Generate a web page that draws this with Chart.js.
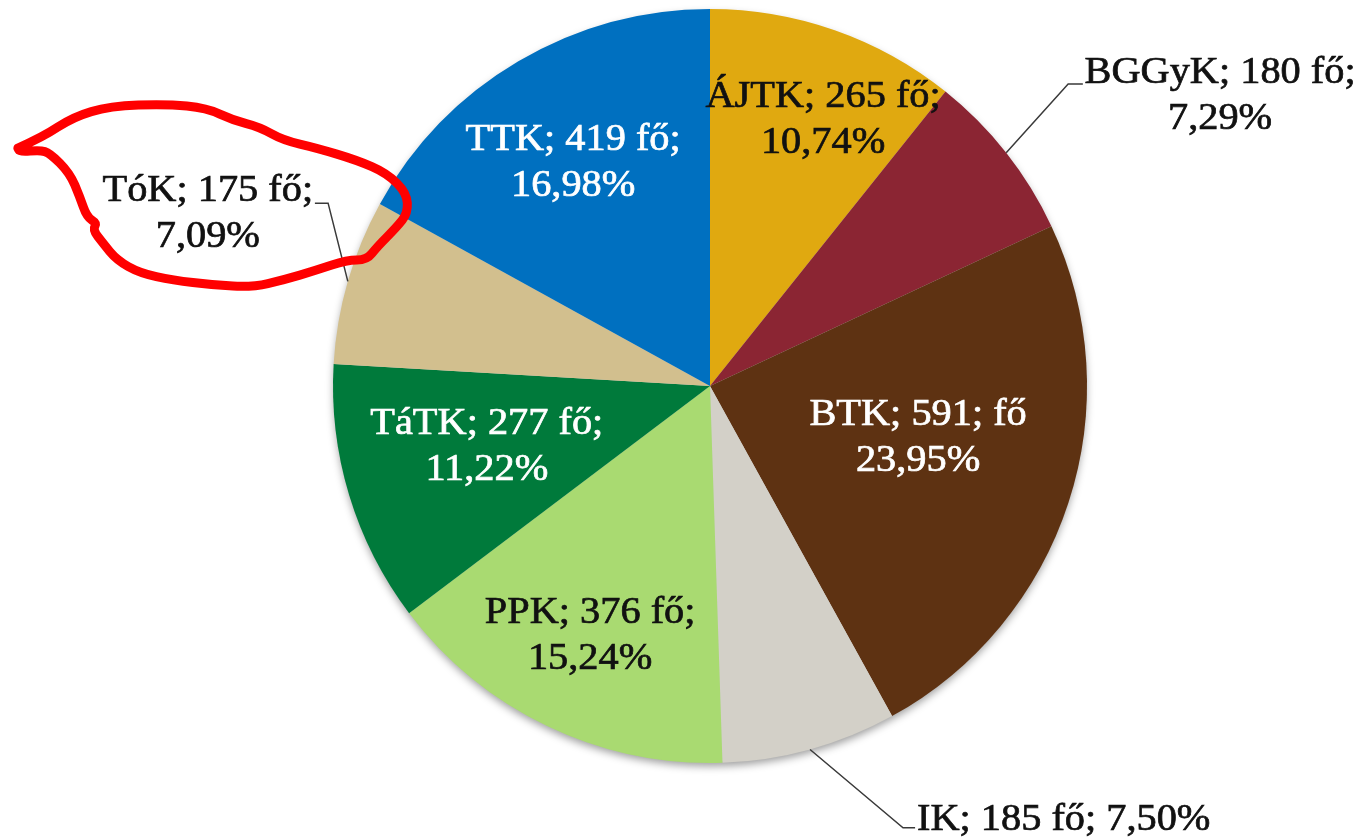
<!DOCTYPE html>
<html>
<head>
<meta charset="utf-8">
<script src="https://cdn.jsdelivr.net/npm/chart.js@4.4.1/dist/chart.umd.min.js"></script>
<style>
  html, body { margin: 0; padding: 0; background: #ffffff; }
  #wrap { width: 1358px; height: 838px; position: relative; }
</style>
</head>
<body>
<div id="wrap"><canvas id="c" width="1358" height="838"></canvas></div>
<script>
// ---- data ----
const categories = ['ÁJTK', 'BGGyK', 'BTK', 'IK', 'PPK', 'TáTK', 'TóK', 'TTK'];
const counts = [265, 180, 591, 185, 376, 277, 175, 419];
const percentLabels = ['10,74%', '7,29%', '23,95%', '7,50%', '15,24%', '11,22%', '7,09%', '16,98%'];
const labelTexts = [
  ['ÁJTK; 265 fő;', '10,74%'],
  ['BGGyK; 180 fő;', '7,29%'],
  ['BTK; 591; fő', '23,95%'],
  ['IK; 185 fő; 7,50%'],
  ['PPK; 376 fő;', '15,24%'],
  ['TáTK; 277 fő;', '11,22%'],
  ['TóK; 175 fő;', '7,09%'],
  ['TTK; 419 fő;', '16,98%']
];

// ---- styles ----
const colors = ['#E0A910', '#8B2533', '#5E3212', '#D3D0C8', '#A9DA71', '#007A3B', '#D2BF8E', '#0070C0'];
const textColors = ['#111', '#111', '#fff', '#111', '#111', '#fff', '#111', '#fff'];
// label anchor in units of radius, relative to pie centre
const labelPos = [
  [0.300, -0.706], [1.353, -0.769], [0.552, 0.138], [0.549, 1.151],
  [-0.318, 0.663], [-0.592, 0.162], [-1.332, -0.456], [-0.363, -0.592]
];
const labelAlign = ['center', 'center', 'center', 'left', 'center', 'center', 'center', 'center'];
// leader lines: elbow and end points (units of radius)
const leaders = {
  1: [[0.950, -0.801], [0.989, -0.801]],
  3: [[0.512, 1.172], [0.544, 1.172]],
  6: [[-1.013, -0.485], [-1.048, -0.485]]
};
// freehand red annotation around TóK label, offsets in px from label anchor
const scribble = [
  [18,148],[43,137],[73,117],[110,106],[167,104],[207,108],[233,120],[260,127],[283,140],
  [317,148],[357,160],[387,173],[407,193],[408,213],[397,227],[377,247],[367,260],[347,260],
  [317,270],[283,280],[253,287],[213,285],[173,280],[140,273],[117,260],[103,243],[93,230],
  [97,223],[87,217],[80,197],[70,173],[50,153],[40,150],[20,152],[18,148]
];
const scribbleOrigin = [208, 214];

const FONT = '37px "Liberation Serif", "DejaVu Serif", serif';
const TEXT_XSCALE = 1.09;
const LINE_H = 46;

const shadowPlugin = {
  id: 'shadow',
  beforeDatasetsDraw(chart) {
    const arc = chart.getDatasetMeta(0).data[0];
    if (!arc) return;
    const p = arc.getProps(['x', 'y', 'outerRadius'], true);
    const ctx = chart.ctx;
    ctx.save();
    ctx.shadowColor = 'rgba(0,0,0,0.4)';
    ctx.shadowBlur = 9;
    ctx.shadowOffsetY = 4;
    ctx.beginPath();
    ctx.arc(p.x, p.y, p.outerRadius - 1, 0, Math.PI * 2);
    ctx.fillStyle = '#cccccc';
    ctx.fill();
    ctx.restore();
  }
};

const labelPlugin = {
  id: 'pieLabels',
  afterDatasetsDraw(chart) {
    const ctx = chart.ctx;
    const meta = chart.getDatasetMeta(0);
    meta.data.forEach((arc, i) => {
      const p = arc.getProps(['x', 'y', 'outerRadius', 'startAngle', 'endAngle'], true);
      const R = p.outerRadius;
      const lx = p.x + labelPos[i][0] * R;
      const ly = p.y + labelPos[i][1] * R;
      // leader line
      if (leaders[i]) {
        const mid = (p.startAngle + p.endAngle) / 2;
        ctx.save();
        ctx.strokeStyle = '#3a3a3a';
        ctx.lineWidth = 1.5;
        ctx.beginPath();
        ctx.moveTo(p.x + Math.cos(mid) * R, p.y + Math.sin(mid) * R);
        leaders[i].forEach(pt => ctx.lineTo(p.x + pt[0] * R, p.y + pt[1] * R));
        ctx.stroke();
        ctx.restore();
      }
      ctx.save();
      ctx.translate(lx, ly);
      ctx.scale(TEXT_XSCALE, 1);
      ctx.font = FONT;
      ctx.fillStyle = textColors[i];
      ctx.strokeStyle = textColors[i];
      ctx.lineWidth = 0.7;
      ctx.textAlign = labelAlign[i];
      ctx.textBaseline = 'middle';
      const lines = labelTexts[i];
      const y0 = -(lines.length - 1) * LINE_H / 2;
      lines.forEach((t, k) => {
        ctx.fillText(t, 0, y0 + k * LINE_H);
        ctx.strokeText(t, 0, y0 + k * LINE_H);
      });
      ctx.restore();
    });
    // red annotation around TóK label
    const idx = categories.indexOf('TóK');
    const a = meta.data[idx].getProps(['x', 'y', 'outerRadius'], true);
    const ax = a.x + labelPos[idx][0] * a.outerRadius;
    const ay = a.y + labelPos[idx][1] * a.outerRadius;
    const pts = scribble.map(pt => [ax + pt[0] - scribbleOrigin[0], ay + pt[1] - scribbleOrigin[1]]);
    ctx.save();
    ctx.strokeStyle = '#FF0000';
    ctx.lineWidth = 9;
    ctx.lineCap = 'round';
    ctx.lineJoin = 'round';
    ctx.beginPath();
    ctx.moveTo(pts[0][0], pts[0][1]);
    for (let k = 1; k < pts.length - 1; k++) {
      const mx = (pts[k][0] + pts[k + 1][0]) / 2;
      const my = (pts[k][1] + pts[k + 1][1]) / 2;
      ctx.quadraticCurveTo(pts[k][0], pts[k][1], mx, my);
    }
    const last = pts[pts.length - 1];
    ctx.lineTo(last[0], last[1]);
    ctx.stroke();
    ctx.restore();
  }
};

new Chart(document.getElementById('c'), {
  type: 'pie',
  data: {
    labels: categories,
    datasets: [{
      data: counts,
      backgroundColor: colors,
      borderWidth: 0
    }]
  },
  options: {
    responsive: false,
    animation: false,
    layout: { padding: { top: 9, bottom: 75, left: 333, right: 271 } },
    plugins: {
      legend: { display: false },
      tooltip: { enabled: false }
    }
  },
  plugins: [shadowPlugin, labelPlugin]
});
</script>
</body>
</html>
